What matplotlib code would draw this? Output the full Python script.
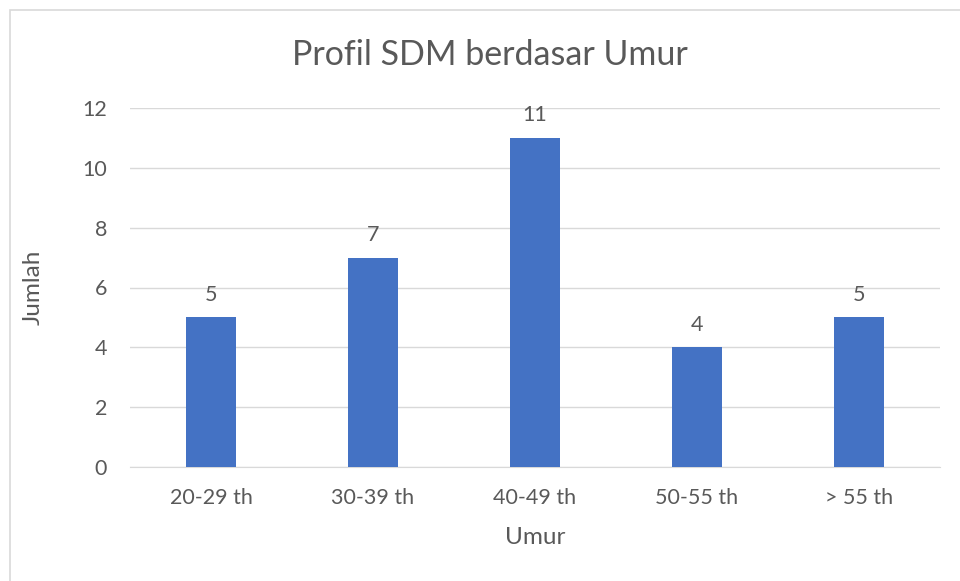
import matplotlib
matplotlib.use("Agg")
import matplotlib.pyplot as plt
from matplotlib.patches import Rectangle

categories = ["20-29 th", "30-39 th", "40-49 th", "50-55 th", "> 55 th"]
values = [5, 7, 11, 4, 5]
yticks = [0, 2, 4, 6, 8, 10, 12]

plt.rcParams['font.family'] = ['Lato', 'DejaVu Sans']
txt = '#595959'
W, H = 960, 581

fig = plt.figure(figsize=(W/100, H/100), dpi=100)
fig.patches.append(Rectangle((9.5/W, -0.05), 1.2, 1 - 9.5/H + 0.05, transform=fig.transFigure,
                             fill=False, edgecolor='#D9D9D9', linewidth=1.2))
ax = fig.add_axes([130/W, 1-467/H, 810/W, (467-108)/H])
x = list(range(len(categories)))
ax.bar(x, values, width=0.31, color='#4472C4', zorder=3)
for xi, v in zip(x, values):
    ax.annotate(str(v), (xi, v), xytext=(0, 9), textcoords='offset points',
                ha='center', va='bottom', fontsize=15.5, color=txt)
ax.set_xlim(-0.5, len(categories) - 0.5)
ax.set_ylim(0, 12)
ax.set_yticks(yticks)
ax.set_xticks(x)
ax.set_xticklabels(categories)
ax.grid(axis='y', color='#D9D9D9', linewidth=1, zorder=0)
for s in ['top', 'right', 'left']:
    ax.spines[s].set_visible(False)
ax.spines['bottom'].set_color('#D9D9D9')
ax.tick_params(axis='both', length=0, labelsize=15.5, colors=txt)
ax.tick_params(axis='y', pad=16.5)
ax.tick_params(axis='x', pad=15)
fig.text(535/W, 1-537/H, 'Umur', ha='center', va='center', fontsize=17.5, color=txt)
fig.text(33/W, 1-287/H, 'Jumlah', ha='center', va='center', rotation=90,
         fontsize=17.5, color=txt)
fig.text(490/W, 1-55/H, 'Profil SDM berdasar Umur', ha='center', va='center',
         fontsize=24.5, color=txt)
fig.savefig('out.png', dpi=100)
